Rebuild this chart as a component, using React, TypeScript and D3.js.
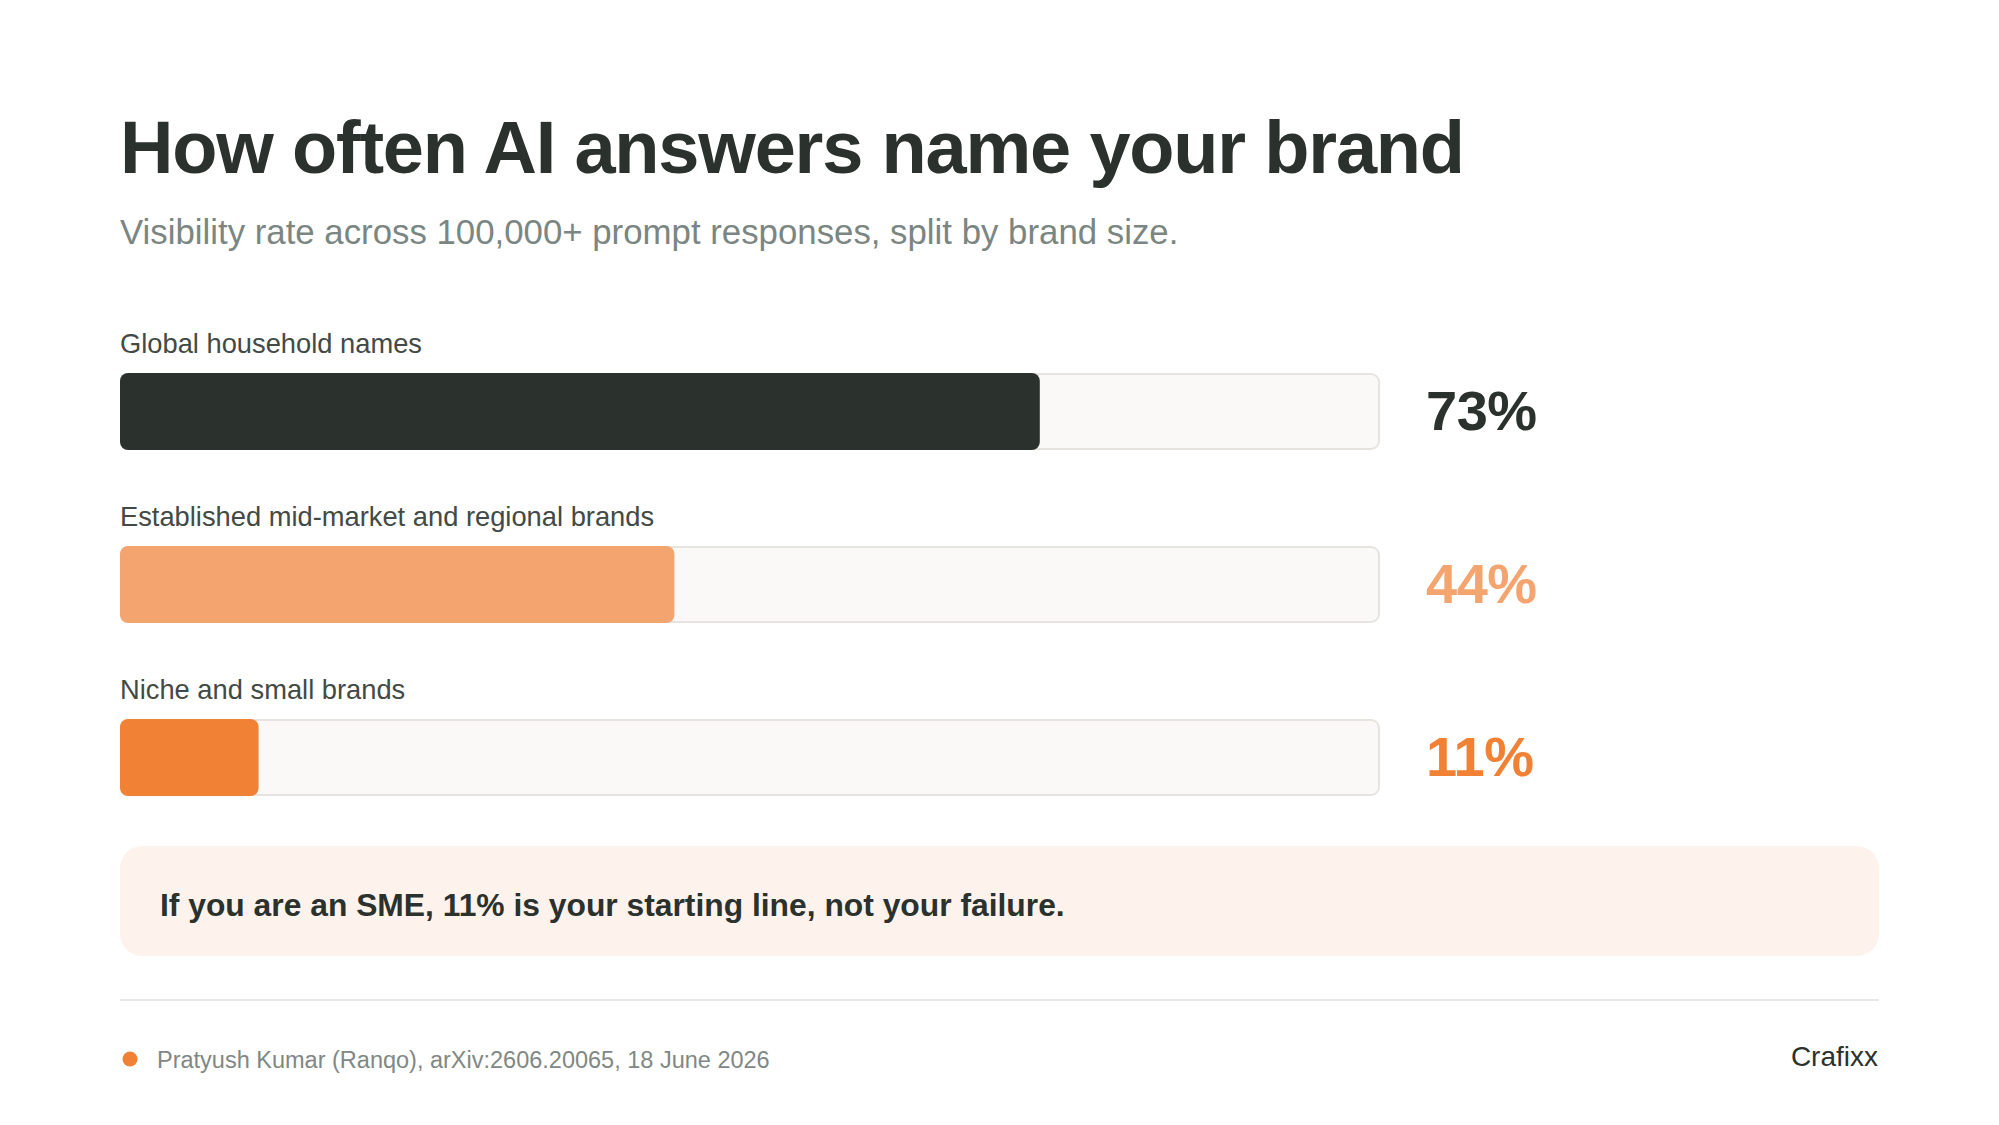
import React from 'react';
import * as d3 from 'd3';

const W = 1999;
const H = 1125;

// chart data
const categories = [
  'Global household names',
  'Established mid-market and regional brands',
  'Niche and small brands',
];
const visibility = [73, 44, 11];
const barColors = ['#2b322e', '#f4a56f', '#f08135'];

const title = 'How often AI answers name your brand';
const subtitle = 'Visibility rate across 100,000+ prompt responses, split by brand size.';
const callout = 'If you are an SME, 11% is your starting line, not your failure.';
const source = 'Pratyush Kumar (Ranqo), arXiv:2606.20065, 18 June 2026';
const brand = 'Crafixx';

const font = '"Liberation Sans", Arial, Helvetica, sans-serif';

const App: React.FC = () => {
  const x = d3.scaleLinear().domain([0, 100]).range([120, 1380]);
  const y = d3.scaleBand<string>()
    .domain(categories)
    .range([373, 796])
    .paddingInner(96 / 173);

  const bw = y.bandwidth();

  return (
    <svg
      width={W}
      height={H}
      style={{ position: 'absolute', left: 0, top: 0, background: '#ffffff' }}
      fontFamily={font}
    >
      <rect width={W} height={H} fill="#ffffff" />

      <text x={120} y={173} fontSize={74} fontWeight={700} fill="#2b312d" letterSpacing={-1.2}>
        {title}
      </text>
      <text x={120} y={244} fontSize={34.8} fill="#7b8682">
        {subtitle}
      </text>

      {categories.map((c, i) => {
        const top = y(c) || 0;
        return (
          <g key={c}>
            <text x={x(0)} y={top - 20} fontSize={27.3} fill="#434a46">
              {c}
            </text>
            <rect
              x={x(0) + 1}
              y={top + 1}
              width={x(100) - x(0) - 2}
              height={bw - 2}
              rx={8}
              fill="#faf9f7"
              stroke="#e7e4e0"
              strokeWidth={2}
            />
            <rect
              x={x(0)}
              y={top}
              width={x(visibility[i]) - x(0)}
              height={bw}
              rx={8}
              fill={barColors[i]}
            />
            <text
              x={x(100) + 46}
              y={top + bw / 2 + 18}
              fontSize={56}
              fontWeight={700}
              fill={barColors[i]}
              letterSpacing={-0.5}
            >
              {`${visibility[i]}%`}
            </text>
          </g>
        );
      })}

      <rect x={120} y={846} width={1759} height={110} rx={22} fill="#fdf3ec" />
      <text x={160} y={916} fontSize={31.8} fontWeight={700} fill="#2b312d">
        {callout}
      </text>

      <line x1={120} x2={1879} y1={1000} y2={1000} stroke="#e9e6e3" strokeWidth={2} />

      <circle cx={130} cy={1059} r={7.5} fill="#f08135" />
      <text x={157} y={1068} fontSize={23.5} fill="#7f8884">
        {source}
      </text>
      <text x={1878} y={1066} fontSize={28} fill="#2b312d" textAnchor="end">
        {brand}
      </text>
    </svg>
  );
};

export default App;
